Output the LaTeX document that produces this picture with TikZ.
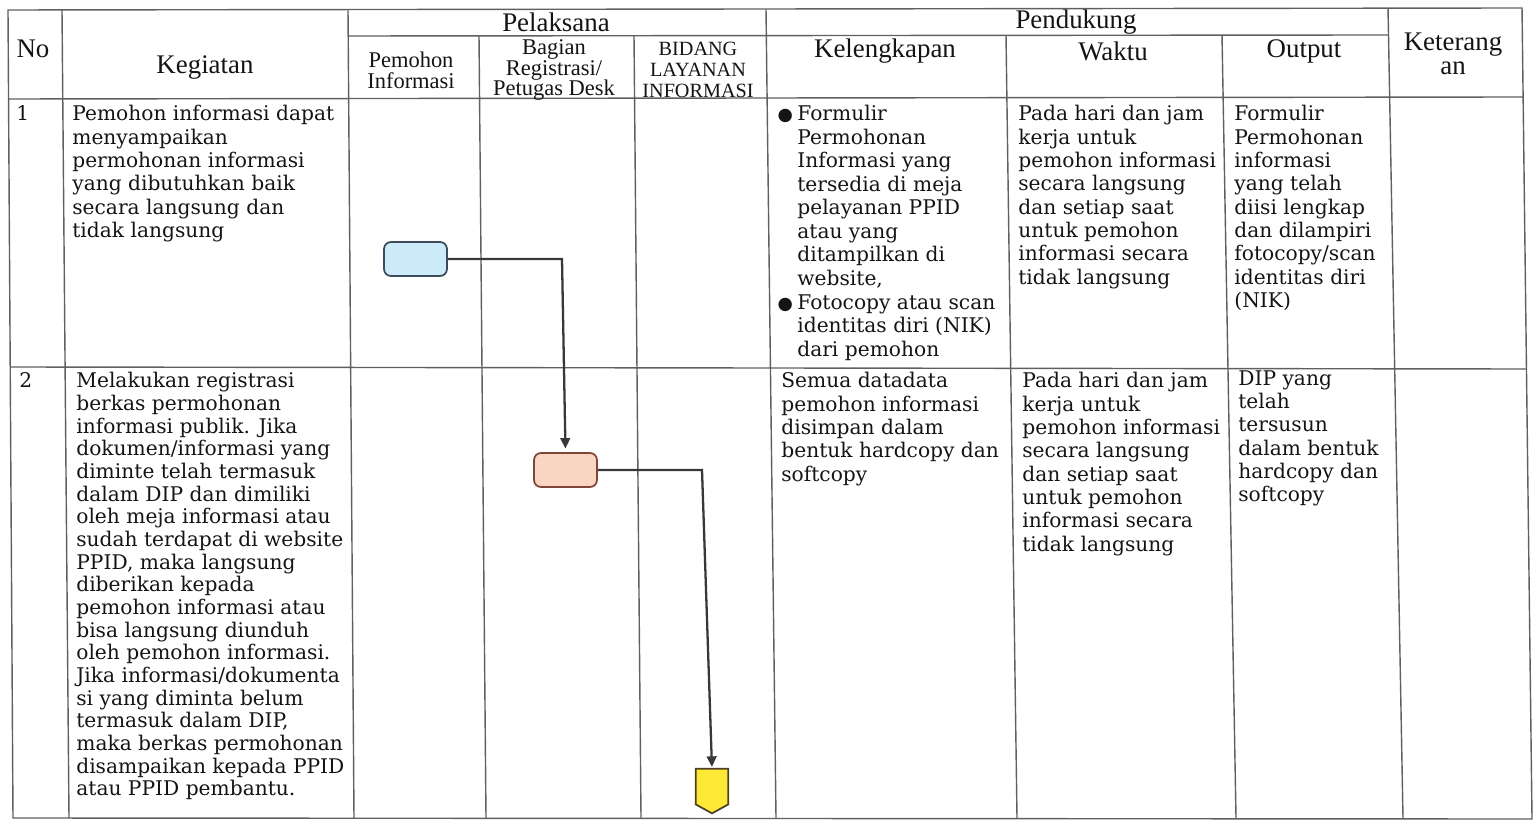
\documentclass[tikz,border=0pt]{standalone}
\usepackage{fontspec}
\usetikzlibrary{arrows.meta,calc}
\newfontfamily\hdrfont{Liberation Serif}
\newfontfamily\dotfont{DejaVu Sans}
\newfontfamily\bkfont{DejaVu Serif}
\newcommand\blt{\llap{\dotfont\fontsize{10}{10}\selectfont●\hspace{2.5pt}}}
\definecolor{ink}{RGB}{20,20,20}
\definecolor{rulegray}{RGB}{95,95,95}
\definecolor{wiregray}{RGB}{55,55,60}
\definecolor{reqfill}{RGB}{205,234,248}
\definecolor{reqline}{RGB}{60,75,92}
\definecolor{regfill}{RGB}{249,214,194}
\definecolor{regline}{RGB}{130,70,55}
\definecolor{docfill}{RGB}{255,233,55}
\definecolor{docline}{RGB}{80,65,35}
\tikzset{
  grid/.style={draw=rulegray, line width=0.8pt},
  head/.style={font=\hdrfont\fontsize{15.3}{14}\selectfont, text=ink, align=center, inner sep=0},
  subhead/.style={font=\hdrfont\fontsize{12.8}{11.9}\selectfont, text=ink, align=center, inner sep=0},
  cell/.style={font={\bkfont\fontsize{11.5}{13.3}\selectfont\lineskiplimit=-20pt\relax}, text=ink, align=left, anchor=north west, inner sep=0},
  lanebox/.style={rounded corners=4pt, line width=1pt, minimum width=1.26cm, minimum height=0.68cm},
  docnode/.style={minimum width=0.64cm, minimum height=0.88cm, inner sep=0},
  docshape/.style={fill=docfill, draw=docline, line width=1pt, line join=miter},
  wire/.style={draw=wiregray, line width=1.3pt, -{Triangle[length=6pt,width=5.5pt]}},
}

\begin{document}
\begin{tikzpicture}[x=0.02cm, y=-0.02cm]
  \useasboundingbox (0,0) rectangle (1533,820);

  % Table frame (the scan is a little skewed)
  \draw[grid] (8,10) -- (1522,8) -- (1532,819) -- (13,818) -- cycle;
  \draw[grid] (348.2,36) -- (1388.5,35);
  \draw[grid] (8.6,99) -- (1523,97);
  \draw[grid] (10.2,367) -- (1526.5,369);
  % Column rules
  \draw[grid] (62,10) -- (69,818);
  \draw[grid] (348,10) -- (354,818);
  \draw[grid] (479,36) -- (486,818);
  \draw[grid] (634,36) -- (641,818);
  \draw[grid] (766,9.5) -- (776,818);
  \draw[grid] (1006,35.5) -- (1017,818);
  \draw[grid] (1222,35) -- (1236,818);
  \draw[grid] (1388,8.5) -- (1403,818.5);

  % Header
  \node[head] (hno) at (33,49) {No};
  \node[head] (hkeg) at (205,68) {Kegiatan};
  \node[head] (hpel) at (556,22) {Pelaksana};
  \node[head] (hpen) at (1076,22) {Pendukung};
  \node[subhead] (hpemohon) at (411,70) {Pemohon\\Informasi};
  \node[subhead] (hbagian) at (554,70) {Bagian\\Registrasi/\\Petugas Desk};
  \node[subhead, font=\hdrfont\fontsize{11.5}{11.9}\selectfont] (hbidang) at (698,70) {BIDANG\\LAYANAN\\INFORMASI};
  \node[head] (hkel) at (885,51) {Kelengkapan};
  \node[head] (hwkt) at (1113,51) {Waktu};
  \node[head] (hout) at (1304,51) {Output};
  \node[head] (hket) at (1453,54) {Keterang\\an};

  % Row 1
  \node[cell] (no1) at (16,105) {1};
  \node[cell] (keg1) at (72,105) {Pemohon informasi dapat\\menyampaikan\\permohonan informasi\\yang dibutuhkan baik\\secara langsung dan\\tidak langsung};
  \node[cell, font={\bkfont\fontsize{11.5}{13.4}\selectfont\lineskiplimit=-20pt\relax}] (kel1) at (797,105) {\blt Formulir\\Permohonan\\Informasi yang\\tersedia di meja\\pelayanan PPID\\atau yang\\ditampilkan di\\website,\\\blt Fotocopy atau scan\\identitas diri (NIK)\\dari pemohon};
  \node[cell] (wkt1) at (1018,105) {Pada hari dan jam\\kerja untuk\\pemohon informasi\\secara langsung\\dan setiap saat\\untuk pemohon\\informasi secara\\tidak langsung};
  \node[cell] (out1) at (1234,105) {Formulir\\Permohonan\\informasi\\yang telah\\diisi lengkap\\dan dilampiri\\fotocopy/scan\\identitas diri\\(NIK)};

  % Row 2
  \node[cell] (no2) at (19,372) {2};
  \node[cell, font={\bkfont\fontsize{11.5}{12.9}\selectfont\lineskiplimit=-20pt\relax}] (keg2) at (76,372) {Melakukan registrasi\\berkas permohonan\\informasi publik. Jika\\dokumen/informasi yang\\diminte telah termasuk\\dalam DIP dan dimiliki\\oleh meja informasi atau\\sudah terdapat di website\\PPID, maka langsung\\diberikan kepada\\pemohon informasi atau\\bisa langsung diunduh\\oleh pemohon informasi.\\Jika informasi/dokumenta\\si yang diminta belum\\termasuk dalam DIP,\\maka berkas permohonan\\disampaikan kepada PPID\\atau PPID pembantu.};
  \node[cell] (kel2) at (781,372) {Semua datadata\\pemohon informasi\\disimpan dalam\\bentuk hardcopy dan\\softcopy};
  \node[cell] (wkt2) at (1022,372) {Pada hari dan jam\\kerja untuk\\pemohon informasi\\secara langsung\\dan setiap saat\\untuk pemohon\\informasi secara\\tidak langsung};
  \node[cell] (out2) at (1238,370) {DIP yang\\telah\\tersusun\\dalam bentuk\\hardcopy dan\\softcopy};

  % Flow shapes
  \node[lanebox, fill=reqfill, draw=reqline] (req) at (415.5,259) {};
  \node[lanebox, fill=regfill, draw=regline] (reg) at (565.5,470) {};
  \node[docnode] (dok) at (712,791) {};
  \filldraw[docshape] (dok.north west) -- (dok.north east) -- ($(dok.south east)+(0,-9)$) -- (dok.south) -- ($(dok.south west)+(0,-9)$) -- cycle;

  % Connectors
  \coordinate (bend1) at (562,259);
  \coordinate (bend2) at (702,470);
  \draw[wire, shorten >=2pt] (req.east) -- (bend1) -- (reg.north);
  \draw[wire, shorten >=1pt] (reg.east) -- (bend2) -- (dok.north);

\end{tikzpicture}
\end{document}
